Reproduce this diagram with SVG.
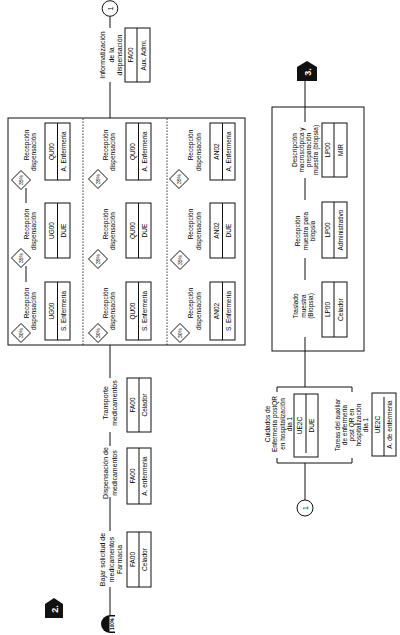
<svg xmlns="http://www.w3.org/2000/svg" width="400" height="635" viewBox="0 0 400 635">
<style>
.t{font-family:"Liberation Sans",Arial,sans-serif;font-size:6.5px;fill:#000;text-anchor:middle}
.l{font-size:7px}
.bx{fill:#fff;stroke:#111;stroke-width:1}
.ln{fill:none;stroke:#111;stroke-width:1}
.dash{fill:none;stroke:#111;stroke-width:0.8;stroke-dasharray:1.6,1.4}
.dm{fill:#fff;stroke:#111;stroke-width:1}
.pc{font-size:5px}
.tag{fill:#111}
.tagt{fill:#fff;font-weight:bold;font-size:9px}
</style>
<rect width="400" height="635" fill="#fff"/>
<g transform="translate(0,635) rotate(-90)">
<g id="connectors">
<line class="ln" x1="20" y1="110" x2="48" y2="110"/>
<line class="ln" x1="104" y1="110" x2="138" y2="110"/>
<line class="ln" x1="189" y1="110" x2="203" y2="110"/>
<line class="ln" x1="257" y1="110" x2="290" y2="110"/>
<line class="ln" x1="517" y1="110" x2="553" y2="110"/>
<line class="ln" x1="607" y1="110" x2="618.5" y2="110"/>
<line class="ln" x1="353" y1="26" x2="369" y2="26"/>
<line class="ln" x1="432" y1="26" x2="447" y2="26"/>
<line class="ln" x1="135" y1="305" x2="172" y2="305"/>
<line class="ln" x1="248" y1="305" x2="284" y2="305"/>
<line class="ln" x1="284" y1="305" x2="298" y2="305"/>
<line class="ln" x1="355" y1="305" x2="377" y2="305"/>
<line class="ln" x1="435" y1="305" x2="457" y2="305"/>
<line class="ln" x1="513" y1="305" x2="554" y2="305"/>
<path class="ln" d="M177,277 H172 V352 H177"/>
<path class="ln" d="M243,277 H248 V352 H243"/>
</g>
<g id="start">
<path class="tag" d="M2,115 V110 A9,9 0 0 1 20,110 V115 Z"/>
<rect x="3.5" y="109.5" width="15" height="5.5" fill="#fff"/>
<text class="t pc" x="11" y="114" style="font-size:4.6px;font-weight:bold">100%</text>
</g>
<g id="tag2">
<path class="tag" d="M17,45 H31 L37,54 L31,63 H17 Z"/>
<text class="t tagt" x="26" y="57.5">2.</text>
</g>
<g id="tag3">
<path class="tag" d="M554,297 H568 L574,307 L568,317 H554 Z"/>
<text class="t tagt" x="563" y="310.5">3.</text>
</g>
<g id="n-bajar">
<text class="t l" x="75.5" y="105"><tspan x="75.5">Bajar solicitud de</tspan><tspan x="75.5" dy="8.5">medicamentos</tspan><tspan x="75.5" dy="8.5">Farmacia</tspan></text>
<rect class="bx" x="48" y="127" width="55" height="24"/>
<line class="ln" x1="48" y1="139" x2="103" y2="139"/>
<text class="t" x="75.5" y="135.3">FA00</text>
<text class="t" x="75.5" y="147.3">Celador</text>
</g>
<g id="n-dispensacion">
<text class="t l" x="162" y="108"><tspan x="162">Dispensación de</tspan><tspan x="162" dy="8.5">medicamentos</tspan></text>
<rect class="bx" x="131" y="127" width="56" height="24"/>
<line class="ln" x1="131" y1="139" x2="187" y2="139"/>
<text class="t" x="159" y="135.3">FA00</text>
<text class="t" x="159" y="147.3">A. enfermería</text>
</g>
<g id="n-transporte">
<text class="t l" x="232" y="108"><tspan x="232">Transporte</tspan><tspan x="232" dy="8.5">medicamentos</tspan></text>
<rect class="bx" x="203" y="127" width="54" height="24"/>
<line class="ln" x1="203" y1="139" x2="257" y2="139"/>
<text class="t" x="230" y="135.3">FA00</text>
<text class="t" x="230" y="147.3">Celador</text>
</g>
<g id="frame-recepcion">
<rect class="ln" x="290" y="8" width="227" height="237"/>
<line class="dash" x1="290" y1="83" x2="517" y2="83"/>
<line class="dash" x1="290" y1="167" x2="517" y2="167"/>
</g>
<g id="r1-n1">
<polygon class="dm" points="292.5,21 302,11.5 311.5,21 302,30.5"/>
<text class="t pc" x="302" y="22.8">30%</text>
<text class="t" x="332" y="28.5">Recepción</text>
<text class="t" x="324" y="36">dispensación</text>
<rect class="bx" x="295" y="45" width="58" height="25"/>
<line class="ln" x1="295" y1="57.5" x2="353" y2="57.5"/>
<text class="t" x="324" y="53.5">UG00</text>
<text class="t" x="324" y="66">S. Enfermería</text>
</g>
<g id="r1-n2">
<polygon class="dm" points="367.5,21 377,11.5 386.5,21 377,30.5"/>
<text class="t pc" x="377" y="22.8">35%</text>
<text class="t" x="411" y="28.5">Recepción</text>
<text class="t" x="404" y="36">dispensación</text>
<rect class="bx" x="377" y="45" width="55" height="25"/>
<line class="ln" x1="377" y1="57.5" x2="432" y2="57.5"/>
<text class="t" x="404.5" y="53.5">UG00</text>
<text class="t" x="404.5" y="66">DUE</text>
</g>
<g id="r1-n3">
<polygon class="dm" points="445.5,21 455,11.5 464.5,21 455,30.5"/>
<text class="t pc" x="455" y="22.8">35%</text>
<text class="t" x="490" y="28.5">Recepción</text>
<text class="t" x="483" y="36">dispensación</text>
<rect class="bx" x="455" y="45" width="57" height="25"/>
<line class="ln" x1="455" y1="57.5" x2="512" y2="57.5"/>
<text class="t" x="483.5" y="53.5">QU00</text>
<text class="t" x="483.5" y="66">A. Enfermería</text>
</g>
<g id="r2-n1">
<polygon class="dm" points="292.5,98 302,88.5 311.5,98 302,107.5"/>
<text class="t pc" x="302" y="99.8">30%</text>
<text class="t" x="332" y="107.5">Recepción</text>
<text class="t" x="324" y="115">dispensación</text>
<rect class="bx" x="295" y="126" width="58" height="25"/>
<line class="ln" x1="295" y1="138.5" x2="353" y2="138.5"/>
<text class="t" x="324" y="134.5">QU00</text>
<text class="t" x="324" y="147">S. Enfermería</text>
</g>
<g id="r2-n2">
<polygon class="dm" points="366.5,98 376,88.5 385.5,98 376,107.5"/>
<text class="t pc" x="376" y="99.8">35%</text>
<text class="t" x="411" y="107.5">Recepción</text>
<text class="t" x="404" y="115">dispensación</text>
<rect class="bx" x="377" y="126" width="55" height="25"/>
<line class="ln" x1="377" y1="138.5" x2="432" y2="138.5"/>
<text class="t" x="404.5" y="134.5">QU00</text>
<text class="t" x="404.5" y="147">DUE</text>
</g>
<g id="r2-n3">
<polygon class="dm" points="446.5,98 456,88.5 465.5,98 456,107.5"/>
<text class="t pc" x="456" y="99.8">35%</text>
<text class="t" x="490" y="107.5">Recepción</text>
<text class="t" x="483" y="115">dispensación</text>
<rect class="bx" x="455" y="126" width="57" height="25"/>
<line class="ln" x1="455" y1="138.5" x2="512" y2="138.5"/>
<text class="t" x="483.5" y="134.5">QU00</text>
<text class="t" x="483.5" y="147">A. Enfermería</text>
</g>
<g id="r3-n1">
<polygon class="dm" points="292.5,180 302,170.5 311.5,180 302,189.5"/>
<text class="t pc" x="302" y="181.8">30%</text>
<text class="t" x="332" y="193">Recepción</text>
<text class="t" x="324" y="200.5">dispensación</text>
<rect class="bx" x="295" y="210" width="58" height="25"/>
<line class="ln" x1="295" y1="222.5" x2="353" y2="222.5"/>
<text class="t" x="324" y="218.5">AN02</text>
<text class="t" x="324" y="231">S. Enfermería</text>
</g>
<g id="r3-n2">
<polygon class="dm" points="365.5,180 375,170.5 384.5,180 375,189.5"/>
<text class="t pc" x="375" y="181.8">35%</text>
<text class="t" x="411" y="193">Recepción</text>
<text class="t" x="404" y="200.5">dispensación</text>
<rect class="bx" x="377" y="210" width="55" height="25"/>
<line class="ln" x1="377" y1="222.5" x2="432" y2="222.5"/>
<text class="t" x="404.5" y="218.5">AN02</text>
<text class="t" x="404.5" y="231">DUE</text>
</g>
<g id="r3-n3">
<polygon class="dm" points="446.5,179 456,169.5 465.5,179 456,188.5"/>
<text class="t pc" x="456" y="180.8">35%</text>
<text class="t" x="490" y="193">Recepción</text>
<text class="t" x="483" y="200.5">dispensación</text>
<rect class="bx" x="455" y="210" width="57" height="25"/>
<line class="ln" x1="455" y1="222.5" x2="512" y2="222.5"/>
<text class="t" x="483.5" y="218.5">AN02</text>
<text class="t" x="483.5" y="231">A. Enfermería</text>
</g>
<g id="n-informatizacion">
<text class="t l" x="580" y="105"><tspan x="580">Informatización</tspan><tspan x="580" dy="8.5">de la</tspan><tspan x="580" dy="8.5">dispensación</tspan></text>
<rect class="bx" x="553" y="125" width="54" height="25"/>
<line class="ln" x1="553" y1="137" x2="607" y2="137"/>
<text class="t" x="580" y="133.3">FA00</text>
<text class="t" x="580" y="145.8">Aux. Admi.</text>
</g>
<g id="conn-1-top">
<circle class="dm" cx="626.5" cy="110" r="7.8"/>
<text class="t l" x="626.5" y="112.5">1</text>
</g>
<g id="conn-1-bottom">
<circle class="dm" cx="127" cy="305" r="8"/>
<text class="t l" x="127" y="307.5">1</text>
</g>
<g id="n-cuidados">
<text class="t" x="211" y="270"><tspan x="211">Cuidados de</tspan><tspan x="211" dy="7.3">Enfermería postQR</tspan><tspan x="211" dy="7.3">en hospitalización</tspan><tspan x="211" dy="7.3">día 1</tspan></text>
<rect class="bx" x="178" y="294" width="63" height="24"/>
<line class="ln" x1="182" y1="306" x2="241" y2="306"/>
<text class="t" x="209.5" y="302.3">UE2C</text>
<text class="t" x="209.5" y="314.3">DUE</text>
</g>
<g id="n-tareas">
<text class="t" x="210" y="340"><tspan x="210">Tareas del auxiliar</tspan><tspan x="210" dy="7">de enfermería</tspan><tspan x="210" dy="7">post QR en</tspan><tspan x="210" dy="7">hospitalización</tspan><tspan x="210" dy="7">día 1</tspan></text>
<rect class="bx" x="179" y="372" width="63" height="24"/>
<line class="ln" x1="179" y1="384" x2="238" y2="384"/>
<text class="t" x="210.5" y="380.3">UE2C</text>
<text class="t" x="210.5" y="392.3">A. de enfermería</text>
</g>
<g id="frame-biopsia">
<rect class="ln" x="284" y="272" width="244" height="92"/>
</g>
<g id="n-traslado">
<text class="t" x="329" y="298"><tspan x="329">Traslado</tspan><tspan x="329" dy="7.5">muestra</tspan><tspan x="329" dy="7.5">(Biopsia)</tspan></text>
<rect class="bx" x="298" y="322" width="55" height="25"/>
<line class="ln" x1="298" y1="334" x2="353" y2="334"/>
<text class="t" x="325.5" y="330.3">LP00</text>
<text class="t" x="325.5" y="342.8">Celador</text>
</g>
<g id="n-recepcion-muestra">
<text class="t" x="404" y="300"><tspan x="404">Recepción</tspan><tspan x="404" dy="7.5">muestra para</tspan><tspan x="404" dy="7.5">biopsia</tspan></text>
<rect class="bx" x="377" y="322" width="56" height="25"/>
<line class="ln" x1="377" y1="334" x2="433" y2="334"/>
<text class="t" x="405" y="330.3">LP00</text>
<text class="t" x="405" y="342.8">Administrativo</text>
</g>
<g id="n-descripcion">
<text class="t" x="485" y="297"><tspan x="485">Descripción</tspan><tspan x="485" dy="7">macroscópica y</tspan><tspan x="485" dy="7">preparación</tspan><tspan x="485" dy="7">muestra (biopsia)</tspan></text>
<rect class="bx" x="458" y="322" width="54" height="25"/>
<line class="ln" x1="458" y1="334" x2="512" y2="334"/>
<text class="t" x="485" y="330.3">LP00</text>
<text class="t" x="485" y="342.8">MIR</text>
</g>
</g>
</svg>
